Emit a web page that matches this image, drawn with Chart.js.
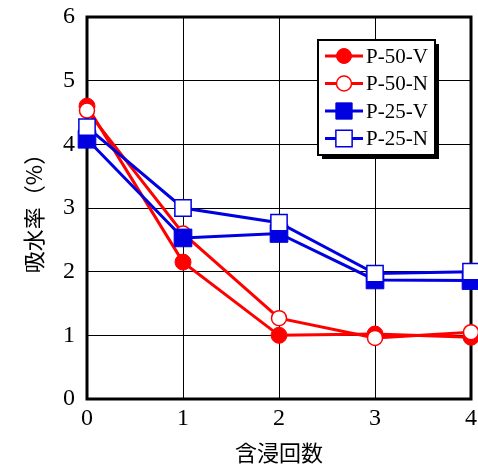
<!DOCTYPE html>
<html>
<head>
<meta charset="utf-8">
<script src="https://cdn.jsdelivr.net/npm/chart.js@4.4.1/dist/chart.umd.min.js"></script>
<style>
  html, body { margin: 0; padding: 0; background: #fff; }
  #wrap { width: 478px; height: 470px; }
</style>
</head>
<body>
<div id="wrap"><canvas id="c" width="478" height="470"></canvas></div>
<script>
// 含浸回数 (impregnation count) on x, 吸水率 (%) on y
const cycles = [0, 1, 2, 3, 4];
const seriesNames = ['P-50-V', 'P-50-N', 'P-25-V', 'P-25-N'];
const p50V = [4.60, 2.15, 1.00, 1.02, 0.97];
const p50N = [4.53, 2.60, 1.27, 0.96, 1.05];
const p25V = [4.08, 2.53, 2.60, 1.87, 1.86];
const p25N = [4.27, 3.00, 2.77, 1.97, 2.00];
const yTicks = [0, 1, 2, 3, 4, 5, 6];
const xTitle = '含浸回数';
const yTitle = '吸水率（%）';

const RED = '#ff0000';
const BLUE = '#0000e0';
const SERIF = '"Liberation Serif", "Times New Roman", serif';
const CJK = '"Noto Sans CJK JP", "Noto Sans CJK SC", sans-serif';

const pts = vals => cycles.map((c, i) => ({ x: c, y: vals[i] }));

function makeSet(label, vals, color, filled, style, radius, order) {
  return {
    label,
    data: pts(vals),
    borderColor: color,
    borderWidth: 3,
    pointStyle: style,
    pointRadius: radius,
    pointHoverRadius: radius,
    pointBackgroundColor: filled ? color : '#ffffff',
    pointBorderColor: color,
    pointBorderWidth: filled ? 1 : 1.5,
    tension: 0,
    fill: false,
    clip: false,
    order
  };
}

// frame around the plot area, under the data
const framePlugin = {
  id: 'frame',
  beforeDatasetsDraw(chart) {
    const { ctx, chartArea: a } = chart;
    ctx.save();
    ctx.strokeStyle = '#000';
    ctx.lineWidth = 3;
    ctx.strokeRect(a.left, a.top, a.right - a.left, a.bottom - a.top);
    ctx.restore();
  }
};

// boxed legend: line + marker per series, with a drop shadow
const legendPlugin = {
  id: 'boxLegend',
  afterDraw(chart) {
    const { ctx } = chart;
    const bx = 318, by = 40, bw = 117, bh = 115;
    ctx.save();
    ctx.fillStyle = '#000';
    ctx.fillRect(bx + 4, by + 4, bw, bh);
    ctx.fillStyle = '#fff';
    ctx.fillRect(bx, by, bw, bh);
    ctx.strokeStyle = '#000';
    ctx.lineWidth = 2;
    ctx.strokeRect(bx, by, bw, bh);
    chart.data.datasets.forEach((ds, i) => {
      const y = by + 16 + i * 27.5;
      const x0 = bx + 7, x1 = bx + 45, xm = (x0 + x1) / 2;
      ctx.strokeStyle = ds.borderColor;
      ctx.lineWidth = 3;
      ctx.beginPath();
      ctx.moveTo(x0, y);
      ctx.lineTo(x1, y);
      ctx.stroke();
      ctx.fillStyle = ds.pointBackgroundColor;
      ctx.strokeStyle = ds.pointBorderColor;
      ctx.lineWidth = ds.pointBorderWidth;
      const r = ds.pointStyle === 'rect' ? 11.5 : 7.5;
      Chart.helpers.drawPoint(ctx, { pointStyle: ds.pointStyle, rotation: 0, radius: r, borderWidth: ds.pointBorderWidth }, xm, y);
      ctx.fillStyle = '#000';
      ctx.font = '21px ' + SERIF;
      ctx.textBaseline = 'middle';
      ctx.textAlign = 'left';
      ctx.fillText(ds.label, x1 + 3, y + 1);
    });
    ctx.restore();
  }
};

new Chart(document.getElementById('c'), {
  type: 'line',
  data: {
    datasets: [
      makeSet(seriesNames[0], p50V, RED, true, 'circle', 8, 4),
      makeSet(seriesNames[1], p50N, RED, false, 'circle', 7.5, 3),
      makeSet(seriesNames[2], p25V, BLUE, true, 'rect', 12.5, 2),
      makeSet(seriesNames[3], p25N, BLUE, false, 'rect', 11.5, 1)
    ]
  },
  options: {
    responsive: false,
    animation: false,
    devicePixelRatio: 1,
    layout: { autoPadding: false, padding: { left: 0, right: 7, top: 17, bottom: 0 } },
    plugins: { legend: { display: false }, tooltip: { enabled: false } },
    scales: {
      x: {
        type: 'linear',
        min: 0, max: 4,
        afterBuildTicks: s => { s.ticks = cycles.map(v => ({ value: v })); },
        afterFit: s => { s.height = 71; s.paddingLeft = 0; s.paddingRight = 0; },
        grid: { color: '#000', lineWidth: 1, drawTicks: false },
        border: { display: false },
        ticks: { color: '#000', font: { family: SERIF, size: 24 }, padding: 5 },
        title: { display: true, text: xTitle, color: '#000', font: { family: CJK, size: 22 }, padding: { top: 6 } }
      },
      y: {
        type: 'linear',
        min: 0, max: 6,
        afterBuildTicks: s => { s.ticks = yTicks.map(v => ({ value: v })); },
        afterFit: s => { s.width = 87; s.paddingTop = 0; s.paddingBottom = 0; },
        grid: { color: '#000', lineWidth: 1, drawTicks: false },
        border: { display: false },
        ticks: { color: '#000', font: { family: SERIF, size: 24 }, padding: 12 },
        title: { display: true, text: yTitle, color: '#000', font: { family: CJK, size: 22 }, padding: { top: 20, bottom: 0 } }
      }
    }
  },
  plugins: [framePlugin, legendPlugin]
});
</script>
</body>
</html>
